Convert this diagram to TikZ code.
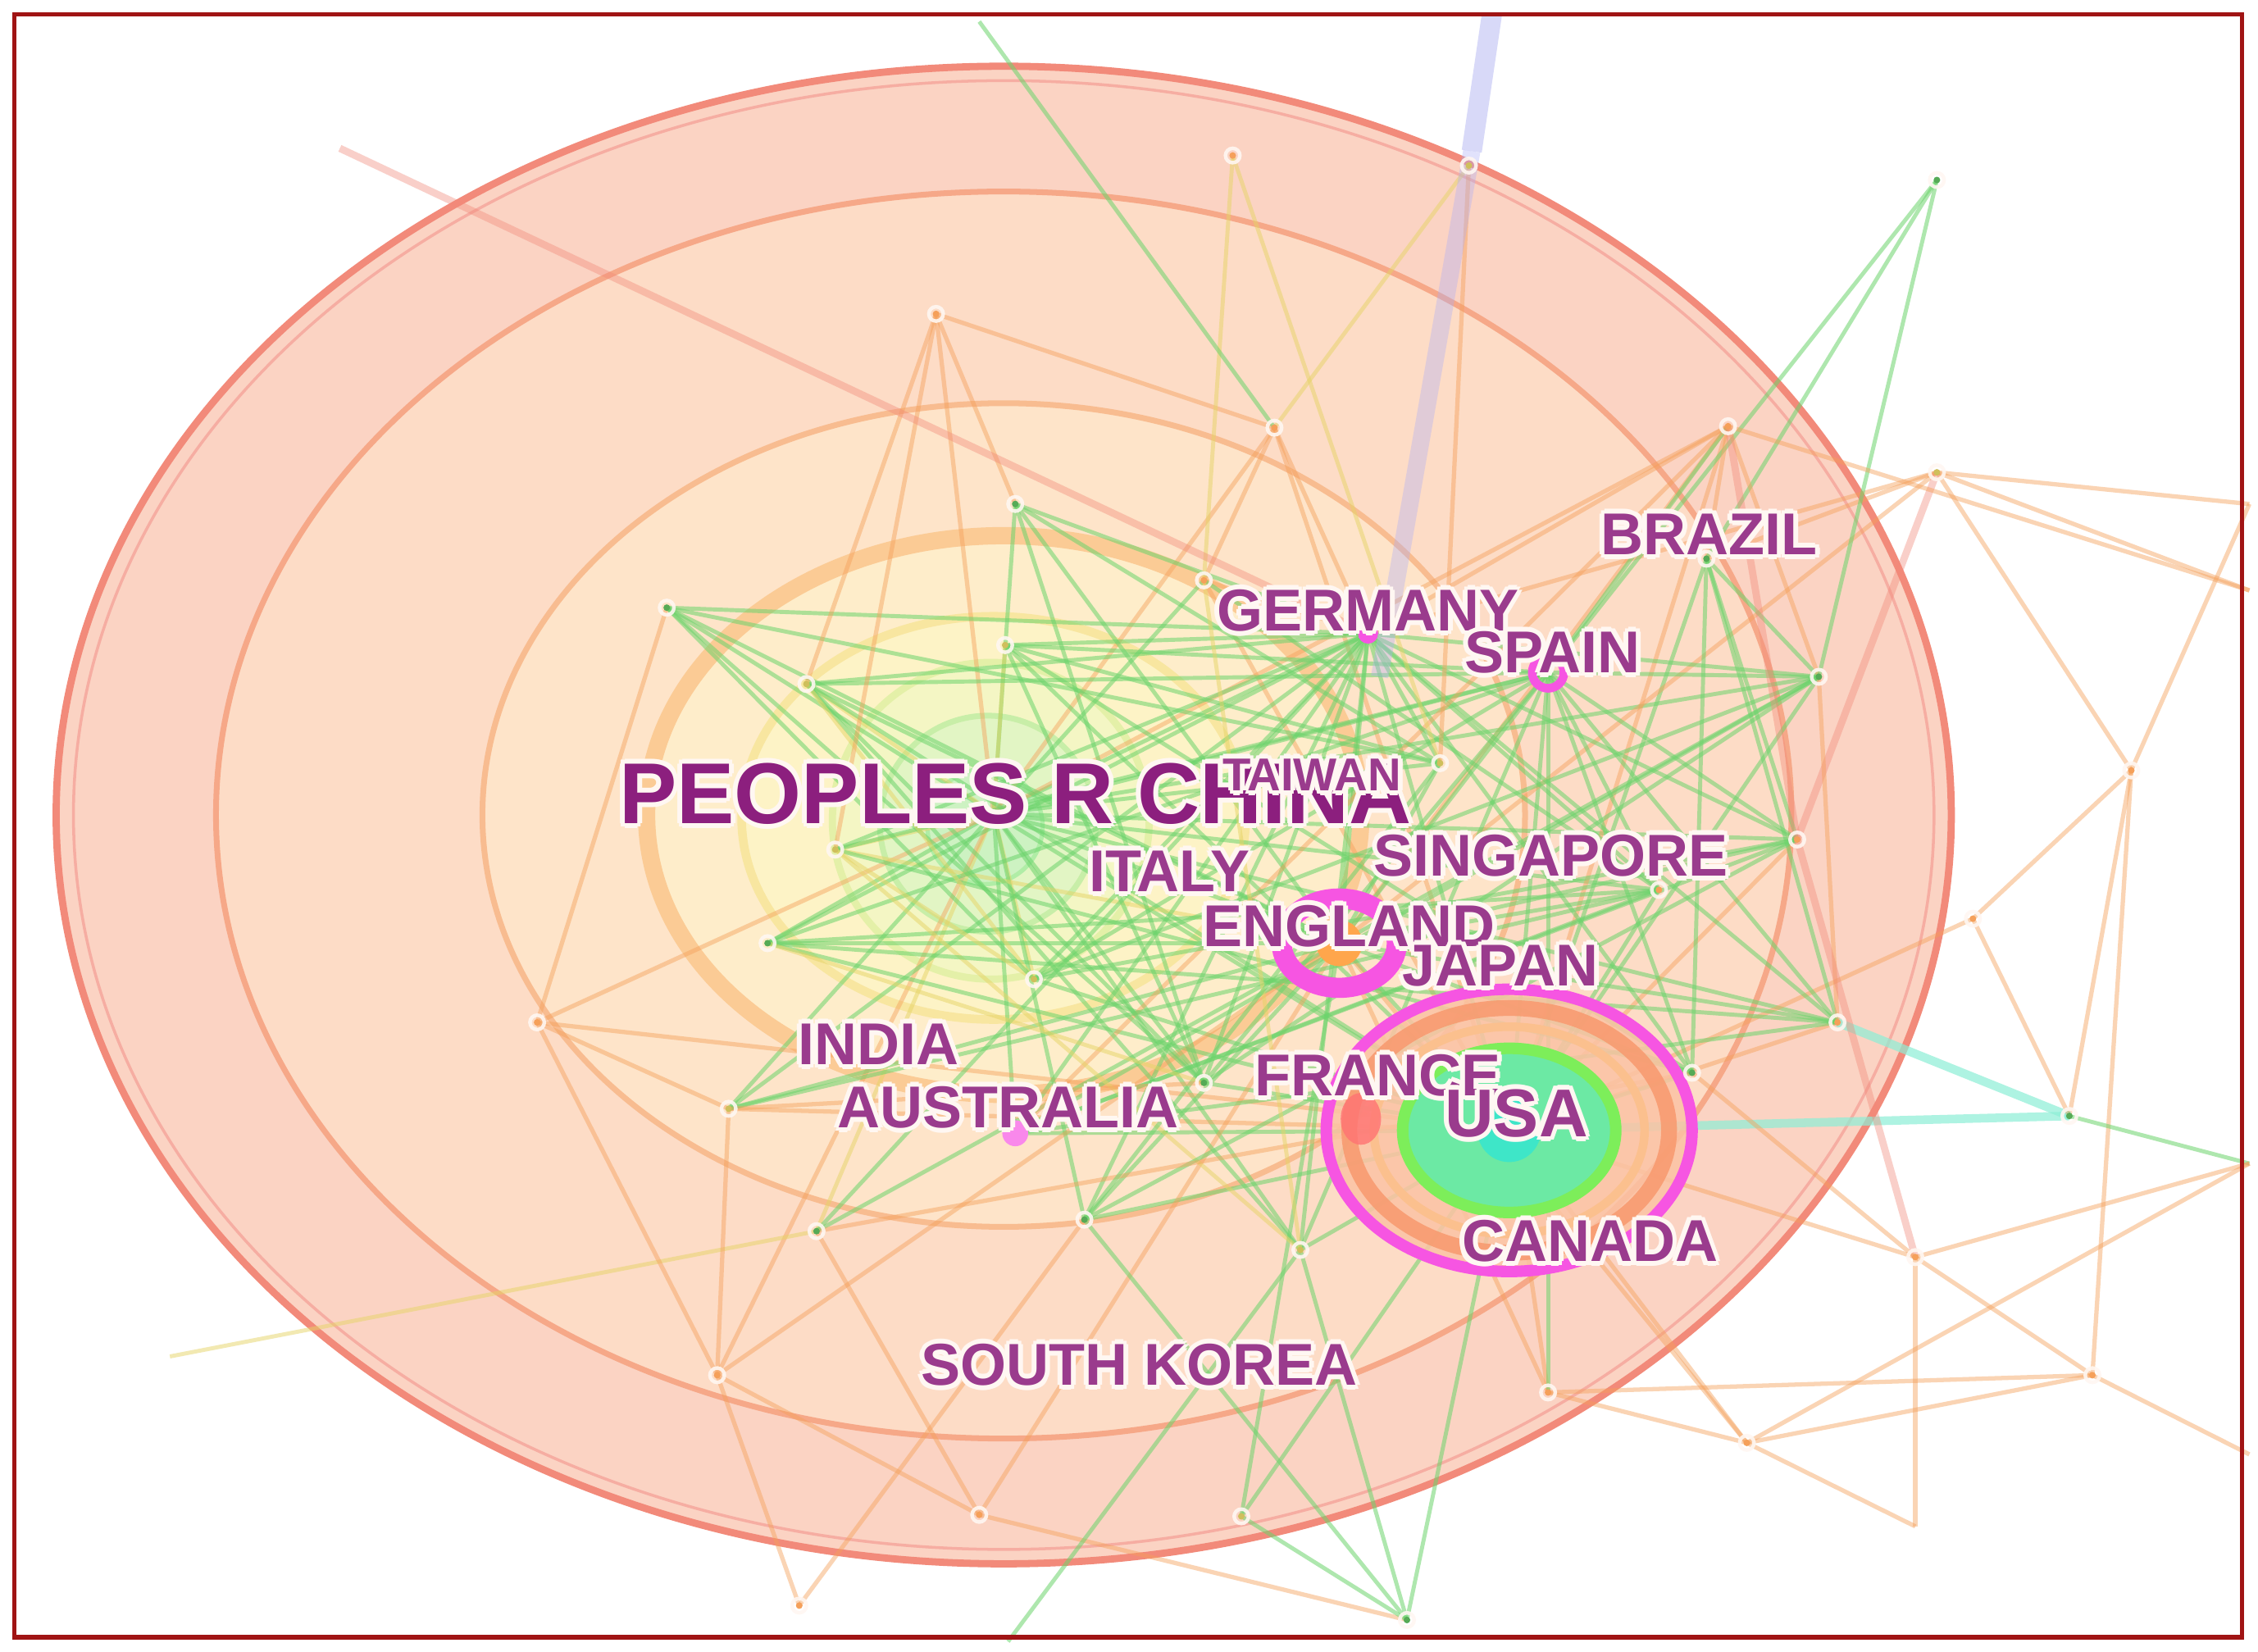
\documentclass[tikz,border=0pt]{standalone}
\usepackage{fontspec}
\setmainfont{Liberation Sans}
\definecolor{labc}{HTML}{9A3B8D}
\definecolor{chc}{HTML}{8C1F7E}
\definecolor{halo}{HTML}{FFF7F2}
\definecolor{frame}{HTML}{A01414}
\definecolor{cG}{HTML}{6CD46C}
\definecolor{cO}{HTML}{F5A05A}
\definecolor{cY}{HTML}{E6D466}
\definecolor{cS}{HTML}{F28878}
\definecolor{cT}{HTML}{8CEFD6}
\definecolor{cB}{HTML}{D6D8F8}
\definecolor{pinkring}{HTML}{F655E2}
\definecolor{r1}{HTML}{FBD3C3}
\definecolor{r1l}{HTML}{F28A7A}
\definecolor{r2}{HTML}{FDDCC6}
\definecolor{r2l}{HTML}{F6A888}
\definecolor{r3}{HTML}{FEE4C9}
\definecolor{r3l}{HTML}{F8BC90}
\definecolor{r4}{HTML}{FEEDCA}
\definecolor{r4l}{HTML}{FBCB95}
\definecolor{r5}{HTML}{FDF3C6}
\definecolor{r5l}{HTML}{F8E6A0}
\definecolor{r6}{HTML}{F4F6C4}
\definecolor{r6l}{HTML}{E4F0A8}
\definecolor{r7}{HTML}{E2F5C4}
\definecolor{r7l}{HTML}{C8EEA8}
\definecolor{r8}{HTML}{CDF2C2}
\definecolor{r8l}{HTML}{B0EDA6}
\definecolor{usfill}{HTML}{FBC3A4}
\definecolor{usor}{HTML}{F8966A}
\definecolor{usor2}{HTML}{FBC08E}
\definecolor{usgr}{HTML}{7DEE5A}
\definecolor{usin}{HTML}{6CE9A4}
\definecolor{usc}{HTML}{3EE6C8}
\tikzset{
  eg/.style={draw=cG, line width=2.8pt, draw opacity=0.55},
  eo/.style={draw=cO, line width=3pt, draw opacity=0.45},
  ey/.style={draw=cY, line width=2.8pt, draw opacity=0.5},
  es/.style={draw=cS, line width=5pt, draw opacity=0.4},
  et/.style={draw=cT, line width=6pt, draw opacity=0.7},
  dotg/.style={fill=cG!80!black},
  doto/.style={fill=cO},
  doty/.style={fill=cY!90!black},
}
\newcommand\plab[5]{%
  \foreach \hh in {0,45,...,315}{\node[font=\fontsize{#3}{#3}\selectfont\bfseries, text=halo, inner sep=0pt, xshift={3.4*cos(\hh)}, yshift={3.4*sin(\hh)}] at (#2) {#4};}
  \node[font=\fontsize{#3}{#3}\selectfont\bfseries, text=#5, inner sep=0pt] (#1) at (#2) {#4};
}
\begin{document}
\begin{tikzpicture}[x=1pt,y=-1pt]
\useasboundingbox (0,0) rectangle (1568,1147);
\fill[white] (0,0) rectangle (1568,1147);
% hubs
\coordinate (cn) at (690,565);
\coordinate (us) at (1048,785);
\coordinate (en) at (930,655);
\coordinate (ge) at (950,440);
\coordinate (sp) at (1075,467);
\coordinate (au) at (705,787);
\coordinate (br) at (1185,388);
% peripheral
\coordinate (p1) at (856,108);
\coordinate (p2) at (1020,115);
\coordinate (p3) at (650,218);
\coordinate (p4) at (885,297);
\coordinate (p5) at (1200,296);
\coordinate (p6) at (1345,328);
\coordinate (p7) at (705,350);
\coordinate (p8) at (1345,125);
\coordinate (p9) at (463,422);
\coordinate (p10) at (698,448);
\coordinate (p11) at (836,403);
\coordinate (p12) at (560,475);
\coordinate (p13) at (1263,470);
\coordinate (p14) at (1000,530);
\coordinate (p15) at (580,590);
\coordinate (p16) at (1248,583);
\coordinate (p17) at (1152,618);
\coordinate (p18) at (1370,638);
\coordinate (p19) at (533,655);
\coordinate (p20) at (718,680);
\coordinate (p21) at (373,710);
\coordinate (p22) at (1276,710);
\coordinate (p23) at (506,770);
\coordinate (p24) at (836,752);
\coordinate (p25) at (1175,745);
\coordinate (p26) at (1437,775);
\coordinate (p27) at (753,847);
\coordinate (p28) at (567,855);
\coordinate (p29) at (903,868);
\coordinate (p30) at (1330,873);
\coordinate (p31) at (1480,535);
\coordinate (p32) at (1562,350);
\coordinate (p33) at (498,955);
\coordinate (p34) at (1075,967);
\coordinate (p35) at (1453,955);
\coordinate (p36) at (1213,1002);
\coordinate (p37) at (862,1053);
\coordinate (p38) at (977,1125);
\coordinate (p39) at (680,1052);
\coordinate (p40) at (555,1115);
\coordinate (p41) at (118,942);
\coordinate (p42) at (236,103);
\coordinate (p43) at (1562,808);
\coordinate (p44) at (1562,410);
\coordinate (p45) at (680,15);
\coordinate (p46) at (1562,1010);
\coordinate (p47) at (1330,1060);
\coordinate (p48) at (700,1140);
\coordinate (b1) at (1036,10);
\coordinate (b2) at (1022,105);
\coordinate (b3) at (958,470);
% ---- China tree rings
\filldraw[fill=r1, draw=r1l, line width=5pt] (697,566) ellipse [x radius=658pt, y radius=520pt];
\draw[r1l!70!white, line width=2pt] (697,566) ellipse [x radius=646pt, y radius=510pt];
\filldraw[fill=r2, draw=r2l, line width=4pt] (697,566) ellipse [x radius=547pt, y radius=433pt];
\filldraw[fill=r3, draw=r3l, line width=4pt] (697,566) ellipse [x radius=362pt, y radius=286pt];
\filldraw[fill=r4, draw=r4l, line width=12pt] (697,566) ellipse [x radius=248pt, y radius=194pt];
\filldraw[fill=r5, draw=r5l, line width=6pt] (690,568) ellipse [x radius=175pt, y radius=140pt];
\filldraw[fill=r6, draw=r6l, line width=5pt] (688,570) circle[radius=110pt];
\filldraw[fill=r7, draw=r7l, line width=4pt] (686,572) circle[radius=75pt];
\filldraw[fill=r8, draw=r8l, line width=3pt] (684,574) circle[radius=40pt];
% ---- edges
\foreach \a/\b/\c in {cn/p3/o, cn/p7/g, cn/p9/g, cn/p10/y, cn/p11/g, cn/p12/y, cn/p14/g, cn/p15/y, cn/p16/g, cn/p17/g, cn/p19/g, cn/p20/y, cn/p21/o, cn/p22/g, cn/p23/g, cn/p24/g, cn/p27/g, cn/p28/y, cn/p29/g, cn/p13/g, cn/us/g, cn/en/g, cn/ge/g, cn/sp/g, cn/au/g, cn/p33/o, cn/p5/o, cn/p4/o,
 us/p4/o, us/p5/o, us/p13/g, us/p16/o, us/p17/g, us/p18/o, us/p22/o, us/p25/g, us/p26/t, us/p29/g, us/p30/o, us/p34/o, us/p36/o, us/p37/g, us/p38/g, us/p27/g, us/p24/g, us/p20/g, us/p19/g, us/p23/o, us/p21/o, us/p12/g, us/p10/g, us/p11/o, us/ge/g, us/sp/g, us/en/g, us/au/g, us/br/g,
 en/p9/g, en/p7/g, en/p12/g, en/p15/y, en/p19/g, en/p23/g, en/p28/g, en/p33/o, en/p27/g, en/p37/g, en/p39/o, en/p14/g, en/p16/g, en/p13/g, en/p6/o, en/p5/o, en/ge/g, en/sp/g, en/p22/g, en/p25/g, en/p17/g, en/p34/o, en/p36/o,
 ge/p7/g, ge/p9/g, ge/p10/g, ge/p12/g, ge/p13/g, ge/p14/g, ge/p15/g, ge/p16/g, ge/p17/g, ge/p19/g, ge/p20/g, ge/p22/g, ge/p24/g, ge/p29/g, ge/p5/o, ge/p6/o, ge/p4/o, ge/p11/o, ge/au/g, ge/p27/g, ge/p28/g, ge/p23/g, ge/p25/g,
 sp/p5/g, sp/p13/g, sp/p16/g, sp/p22/g, sp/p24/g, sp/p25/g, sp/p29/g, sp/p34/g, sp/p20/g, sp/p8/g, sp/p17/g, sp/p10/g, sp/p12/g, sp/p15/g, sp/p19/g,
 br/p5/o, br/p6/o, br/p13/g, br/p16/g, br/p25/g, br/p22/g, br/p8/g,
 au/p17/g, au/p16/g, au/p13/g, au/p22/g, au/p5/o,
 p10/p14/g, p11/p17/g, p12/p24/g, p15/p25/g, p19/p17/g, p20/p16/g, p7/p14/g, p9/p14/g, p9/p24/g, p12/p29/g, p15/p29/y, p19/p22/g, p23/p17/g, p20/p13/g, p24/p13/g, p27/p16/g, p28/p25/o, p10/p25/g, p11/p29/y, p14/p27/g, p7/p24/g, p12/p20/y, p15/p20/y, p19/p24/y, p10/p24/g, p9/p20/g, p23/p24/o,
 p3/p7/o, p3/p4/o, p3/p12/o, p3/p15/o, p4/p11/o, p4/p2/y, p1/p14/y, p1/p11/y, p2/p14/o, p42/ge/s, p45/p4/g, p41/p28/y, p6/p32/o, p6/p44/o, p6/p31/o, p6/p16/s, p31/p26/o, p31/p35/o, p31/p18/o, p26/p43/g, p30/p35/o, p36/p35/o, p34/p35/o, p34/p36/o, p30/p43/o, p22/p26/t, p18/p26/o, p21/p23/o, p21/p33/o, p21/p9/o, p33/p39/o, p33/p40/o, p39/p38/o, p37/p38/g, p27/p38/g, p29/p38/g, p28/p39/o, p23/p33/o, p40/p27/o, p48/p29/g, p47/p36/o, p30/p47/o, p36/p43/o, p35/p46/o, p5/p13/o, p5/p16/s, p13/p22/o, p16/p30/s, p25/p30/o, p8/p13/g, p5/p44/o, p32/p31/o}
 {\draw[e\c] (\a) -- (\b);}
% ---- lavender link
\draw[cB, line width=14pt, draw opacity=0.95] (b1) -- (b2);
\draw[cB!80!blue, line width=12pt, draw opacity=0.35] (b2) -- (b3);
% ---- USA rings
\filldraw[fill=usfill, fill opacity=0.85, draw=pinkring, line width=8pt] (us) ellipse [x radius=127pt, y radius=98pt];
\draw[usor, line width=11pt, draw opacity=0.8] (us) ellipse [x radius=111pt, y radius=85pt];
\draw[usor2, line width=6pt] (us) ellipse [x radius=94pt, y radius=72pt];
\filldraw[fill=usin, draw=usgr, line width=8pt] (us) ellipse [x radius=74pt, y radius=57pt];
\fill[usc] (us) circle[radius=22pt];
\fill[red!55!white, opacity=0.8] (945,777) ellipse [x radius=14pt, y radius=18pt];
% ---- England, Spain, Germany, Australia
\draw[pinkring, line width=14pt] (en) ellipse [x radius=40pt, y radius=31pt];
\fill[orange!70!white] (en) circle[radius=16pt];
\draw[pinkring, line width=6pt] (sp) circle[radius=11pt];
\fill[pinkring] (ge) circle[radius=7pt];
\fill[pinkring!70!white] (au) circle[radius=9pt];
% ---- small nodes
\foreach \p/\c in {p1/o, p2/y, p3/o, p4/o, p5/o, p6/y, p7/g, p8/g, p9/g, p10/y, p11/o, p12/y, p13/g, p14/y, p15/y, p16/o, p17/o, p18/o, p19/g, p20/y, p21/o, p22/o, p23/y, p24/g, p25/g, p26/g, p27/g, p28/g, p29/y, p30/o, p31/o, p33/o, p34/o, p35/o, p36/o, p37/y, p38/g, p39/o, p40/o, br/g}
 {\draw[halo, line width=2.5pt, opacity=0.9] (\p) circle[radius=5pt]; \fill[dot\c] (\p) circle[radius=2.3pt];}
% ---- labels
\plab{lchina}{705,551}{60}{PEOPLES R CHINA}{chc}
\plab{ltaiwan}{911,538}{32}{TAIWAN}{labc}
\plab{lgermany}{950,424}{41}{GERMANY}{labc}
\plab{lspain}{1078,453}{41}{SPAIN}{labc}
\plab{lbrazil}{1187,371}{41}{BRAZIL}{labc}
\plab{lsing}{1077,594}{41}{SINGAPORE}{labc}
\plab{litaly}{812,605}{41}{ITALY}{labc}
\plab{lengland}{937,643}{41}{ENGLAND}{labc}
\plab{ljapan}{1042,671}{41}{JAPAN}{labc}
\plab{lindia}{610,725}{41}{INDIA}{labc}
\plab{laus}{700,769}{41}{AUSTRALIA}{labc}
\plab{lfrance}{957,747}{41}{FRANCE}{labc}
\plab{lusa}{1053,773}{47}{USA}{labc}
\plab{lcanada}{1104,862}{41}{CANADA}{labc}
\plab{lkorea}{791,948}{41}{SOUTH KOREA}{labc}
% ---- frame
\draw[frame, line width=3pt] (10,10) rectangle (1557,1137);
\end{tikzpicture}
\end{document}
